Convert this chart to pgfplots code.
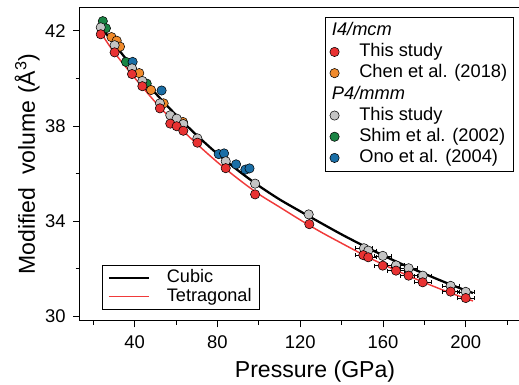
\documentclass[border=0pt]{standalone}
\usepackage{pgfplots}
\pgfplotsset{compat=1.18}
\usepackage{fontspec}
\setmainfont{Liberation Sans}
\definecolor{cred}{HTML}{E83232}
\definecolor{corange}{HTML}{F08A2C}
\definecolor{cgray}{HTML}{C4C4C4}
\definecolor{cgreen}{HTML}{1A8444}
\definecolor{cblue}{HTML}{1A6EA6}
\definecolor{lred}{HTML}{F03A3A}
\pgfplotsset{
  base/.style={
    width=331.7pt, height=235pt, scale only axis,
    xmin=13.44, xmax=227.2, ymin=29.83, ymax=42.98,
  },
  pt/.style={only marks, mark=*, mark size=3.5pt, mark options={draw=black, line width=0.4pt, fill=#1}},
}
\begin{document}
\begin{tikzpicture}
\begin{axis}[base,
  axis line style={line width=0.7pt},
  xtick={40,80,120,160,200},
  minor xtick={20,60,100,140,180,220},
  ytick={30,34,38,42},
  minor ytick={32,36,40},
  tick align=outside,
  xtick pos=left, ytick pos=left,
  major tick length=5pt, minor tick length=3pt,
  every tick/.style={line width=0.7pt, black},
  /pgf/number format/assume math mode=true,
  tick label style={font=\fontsize{13.8}{16}\selectfont},
  xticklabel style={yshift=-3pt},
  yticklabel style={xshift=-2pt},
  xlabel={Pressure (GPa)},
  ylabel={Modified\ \ volume (Å\textsuperscript{3})},
  every axis x label/.style={at={(axis description cs:0.532,-0.163)}, anchor=center, font=\fontsize{17.3}{20}\selectfont},
  every axis y label/.style={at={(axis description cs:-0.119,0.5)}, rotate=90, anchor=center, font=\fontsize{17.3}{20}\selectfont},
  legend style={at={(0,0)}, anchor=south west, xshift=16.5pt, yshift=8pt,
    draw=black, line width=0.6pt, font=\fontsize{13.6}{14}\selectfont,
    row sep=0pt, inner xsep=4.2pt, inner ysep=2.9pt, cells={anchor=west},
    nodes={inner xsep=2pt, inner ysep=0.5pt, text height=9.8pt, text depth=2.9pt}},
  legend image code/.code={\draw[#1] (0pt,0pt) -- (30pt,0pt); \path[draw=none] (0pt,0pt) -- (41.5pt,0pt);},
]
\addplot[black, line width=1.7pt, smooth] coordinates {
(23,42.25) (24,42.13) (30,41.45) (40,40.37) (50,39.38) (60,38.46) (70,37.61)
(80,36.83) (90,36.13) (100,35.49) (110,34.92) (120,34.42) (130,33.93)
(140,33.45) (150,33.00) (160,32.57) (170,32.17) (180,31.80) (190,31.44)
(200,31.10) (203.5,30.99)};
\addlegendentry{Cubic}
\addplot[lred, line width=1.1pt, smooth] coordinates {
(24.5,41.80) (30,41.10) (40,40.02) (50,39.00) (60,38.08) (70,37.25) (80,36.48)
(90,35.78) (100,35.14) (110,34.60) (120,34.06) (130,33.55) (140,33.08)
(150,32.62) (160,32.19) (170,31.80) (180,31.43) (190,31.08) (200,30.76)
(203.5,30.66)};
\addlegendentry{Tetragonal\hspace{8.3pt}}
\end{axis}
\begin{axis}[base, axis line style={draw=none}, xtick=\empty, ytick=\empty,
  legend style={at={(1,1)}, anchor=north east, xshift=-5.8pt, yshift=-7pt,
    draw=black, line width=0.6pt, font=\fontsize{13.7}{15}\selectfont,
    row sep=0pt, inner xsep=3pt, inner ysep=2.3pt, cells={anchor=west},
    nodes={inner xsep=2pt, inner ysep=1pt, text height=10.5pt, text depth=3.4pt}},
  legend image code/.code={\path[draw=none] (0pt,0pt) -- (20.75pt,0pt); \draw[#1] plot coordinates {(4.2pt,0pt)};},
]
\addlegendimage{empty legend}
\addlegendentry{\hspace{-20.5pt}\textit{I4/mcm}}
\addlegendimage{pt=cred}
\addlegendentry{This study}
\addlegendimage{pt=corange}
\addlegendentry{Chen et al. (2018)\hspace{3.2pt}}
\addlegendimage{empty legend}
\addlegendentry{\hspace{-20.5pt}\textit{P4/mmm}}
\addlegendimage{pt=cgray}
\addlegendentry{This study}
\addlegendimage{pt=cgreen}
\addlegendentry{Shim et al. (2002)}
\addlegendimage{pt=cblue}
\addlegendentry{Ono et al. (2004)}
% data
\addplot[pt=cgreen, forget plot] coordinates {
(24.6,42.40) (26.1,42.10) (35.8,40.69) (45.8,39.78)};
\addplot[pt=cblue, forget plot] coordinates {
(39.0,40.69) (53.0,39.49) (80.6,36.82) (83.2,36.85) (89.0,36.39) (93.5,36.17) (95.5,36.22)};
\addplot[pt=corange, forget plot] coordinates {
(28.8,41.73) (31.3,41.58) (32.9,41.33) (42.2,40.22) (47.9,39.51) (54.0,38.95) (63.3,38.17)};
\addplot[pt=cgray, forget plot, error bars/.cd, x dir=both, x explicit,
  error bar style={black, line width=0.5pt}, error mark options={rotate=90, mark size=1.5pt, black}]
 coordinates {
(23.6,42.14) (30.3,41.39) (38.7,40.42) (43.7,39.89) (52.2,38.95) (57.2,38.45)
(60.3,38.31) (63.5,38.08) (70.3,37.48) (84.0,36.52) (98.2,35.58) (124.1,34.29)
(150.8,32.87) +- (4,0) (152.9,32.77) +- (4,0) (159.9,32.55) +- (4,0)
(166.3,32.15) +- (4,0) (172.4,32.03) +- (4,0) (179.2,31.72) +- (4,0)
(192.7,31.29) +- (4,0) (200.0,31.04) +- (4,0)};
\addplot[pt=cred, forget plot, error bars/.cd, x dir=both, x explicit,
  error bar style={black, line width=0.5pt}, error mark options={rotate=90, mark size=1.5pt, black}]
 coordinates {
(23.6,41.85) (30.3,41.09) (38.7,40.18) (43.7,39.67) (52.2,38.74) (57.2,38.10)
(60.3,37.99) (63.5,37.80) (70.3,37.30) (84.0,36.23) (98.2,35.13) (124.4,33.88)
(150.5,32.58) +- (4,0) (152.9,32.49) +- (4,0) (159.9,32.14) +- (4,0)
(166.3,31.93) +- (4,0) (172.4,31.72) +- (4,0) (179.2,31.44) +- (4,0)
(192.7,31.05) +- (4,0) (200.0,30.78) +- (4,0)};
\end{axis}
\pgfresetboundingbox
\path[use as bounding box] ([xshift=-59.8pt,yshift=-48.2pt]current axis.south west) rectangle ([xshift=-2.25pt,yshift=5.5pt]current axis.north east);
\end{tikzpicture}
\end{document}
